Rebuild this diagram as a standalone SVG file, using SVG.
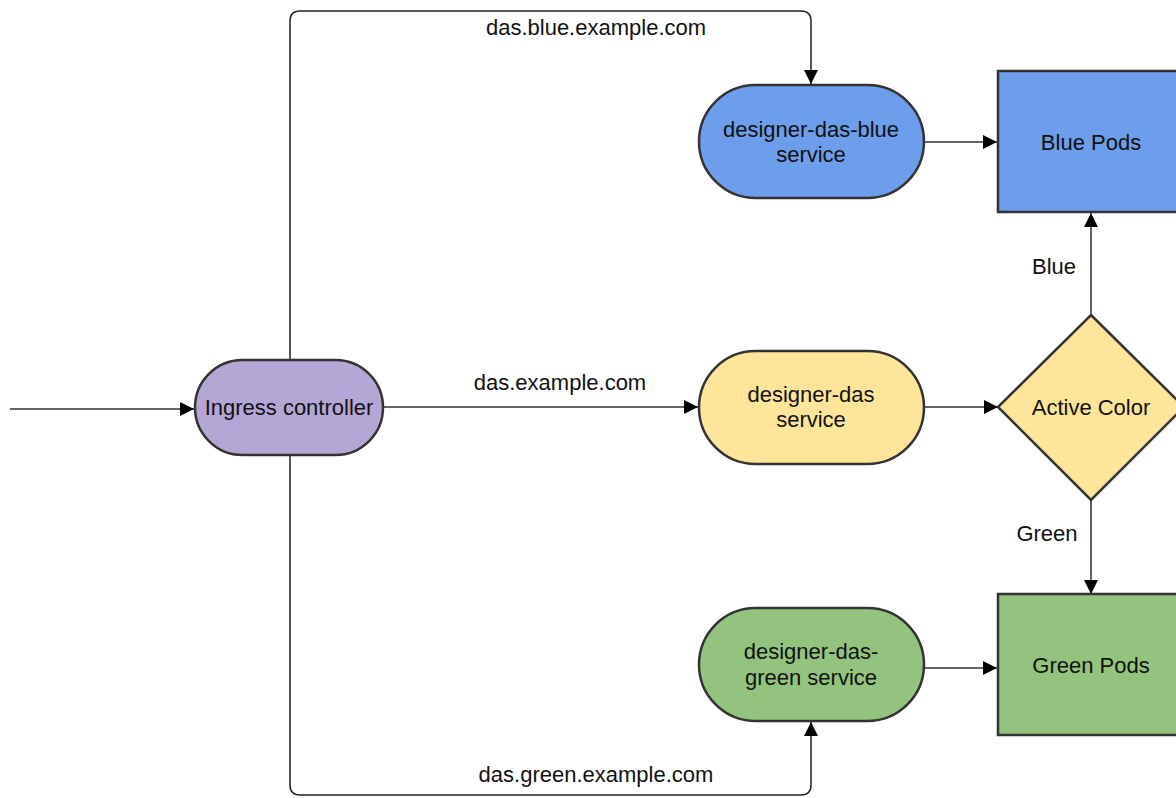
<svg xmlns="http://www.w3.org/2000/svg" width="1176" height="798" viewBox="0 0 1176 798">
  <style>
    text { font-family: "Liberation Sans", Arial, sans-serif; font-size: 22px; fill: #111; text-anchor: middle; }
    .node { stroke: #333; stroke-width: 2.5; }
    .edge { fill: none; stroke: #666; stroke-width: 2; }
    .route { fill: none; stroke: #222; stroke-width: 1.5; }
  </style>
  <defs>
    <marker id="arrow" viewBox="0 0 10 10" refX="10" refY="5" markerWidth="14" markerHeight="14" markerUnits="userSpaceOnUse" orient="auto">
      <path d="M0,0 L10,5 L0,10 Z" fill="#000"/>
    </marker>
  </defs>
  <rect width="1176" height="798" fill="#fff"/>

  <g id="connectors">
    <line class="edge" x1="10" y1="409" x2="194" y2="409" marker-end="url(#arrow)"/>
    <line class="edge" x1="384" y1="407" x2="698" y2="407" marker-end="url(#arrow)"/>
    <path class="route" d="M290,360 V21 Q290,11 300,11 H801 Q811,11 811,21 V84" marker-end="url(#arrow)"/>
    <path class="route" d="M290,455 V785 Q290,795 300,795 H801 Q811,795 811,785 V722" marker-end="url(#arrow)"/>
    <line class="edge" x1="925" y1="142" x2="997" y2="142" marker-end="url(#arrow)"/>
    <line class="edge" x1="925" y1="407" x2="998" y2="407" marker-end="url(#arrow)"/>
    <line class="edge" x1="925" y1="668" x2="997" y2="668" marker-end="url(#arrow)"/>
    <line class="edge" x1="1091" y1="315" x2="1091" y2="213" marker-end="url(#arrow)"/>
    <line class="edge" x1="1091" y1="500" x2="1091" y2="594" marker-end="url(#arrow)"/>
    <text x="596" y="35">das.blue.example.com</text>
    <text x="560" y="390">das.example.com</text>
    <text x="596" y="782">das.green.example.com</text>
    <text x="1054" y="274">Blue</text>
    <text x="1047" y="541">Green</text>
  </g>

  <g id="ingress">
    <rect class="node" x="195" y="360" width="188" height="95" rx="47.5" fill="#b4a7d6"/>
    <text x="289" y="415">Ingress controller</text>
  </g>

  <g id="blue-service">
    <rect class="node" x="699" y="85" width="225" height="113" rx="56.5" fill="#6d9eeb"/>
    <text x="811" y="137">designer-das-blue</text>
    <text x="811" y="162">service</text>
  </g>

  <g id="das-service">
    <rect class="node" x="699" y="351" width="225" height="113" rx="56.5" fill="#ffe599"/>
    <text x="811" y="402">designer-das</text>
    <text x="811" y="427">service</text>
  </g>

  <g id="green-service">
    <rect class="node" x="699" y="608" width="225" height="113" rx="56.5" fill="#93c47d"/>
    <text x="811" y="659">designer-das-</text>
    <text x="811" y="685">green service</text>
  </g>

  <g id="blue-pods">
    <rect class="node" x="998" y="71" width="186" height="141" fill="#6d9eeb"/>
    <text x="1091" y="150">Blue Pods</text>
  </g>

  <g id="active-color">
    <polygon class="node" points="1091,315 1184,407 1091,500 998,407" fill="#ffe599"/>
    <text x="1091" y="415">Active Color</text>
  </g>

  <g id="green-pods">
    <rect class="node" x="998" y="594" width="186" height="141" fill="#93c47d"/>
    <text x="1091" y="673">Green Pods</text>
  </g>
</svg>
